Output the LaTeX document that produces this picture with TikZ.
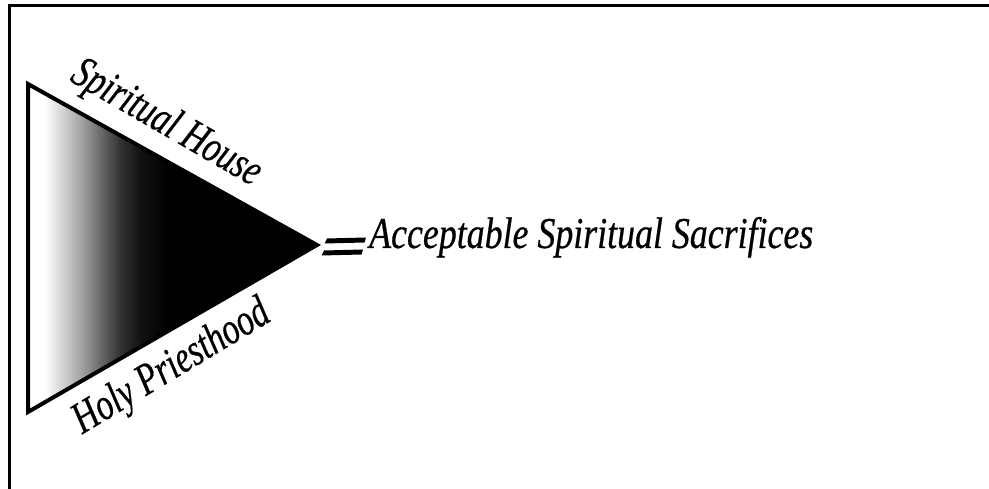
\documentclass[tikz,border=0pt]{standalone}
\usepackage{fontspec}
\setmainfont{Liberation Serif}
\newfontfamily\labfont{Liberation Serif}[FakeBold=0.6]
\usepackage{graphicx}
\pgfdeclarehorizontalshading{fadeblack}{100bp}{%
  color(0bp)=(white); color(25bp)=(white); color(30.4bp)=(white); color(35.7bp)=(black!15);
  color(42.9bp)=(black!35); color(50bp)=(black!58); color(57.1bp)=(black!80);
  color(64.3bp)=(black!93); color(71.4bp)=(black!98); color(75bp)=(black); color(100bp)=(black)}
\begin{document}
\begin{tikzpicture}[x=1pt,y=-1pt,
  frame/.style={line width=3pt,black},
  tri/.style={line width=4pt,black,line join=miter},
  lbl/.style={inner sep=0pt,font=\labfont\itshape}]
\useasboundingbox (0,0) rectangle (989,489);
% frame (top and left sides only)
\draw[frame] (9.5,489) -- (9.5,5.5) -- (989,5.5);
% triangle
\coordinate (tl) at (28,84);
\coordinate (bl) at (28,412);
\coordinate (tip) at (317,245);
\begin{scope}
  \clip (tl) -- (tip) -- (bl) -- cycle;
  \shade[shading=fadeblack] (30,80) rectangle (170,420);
  \fill[black] (169,80) rectangle (320,420);
\end{scope}
\draw[tri] (tl) -- (tip) -- (bl) -- cycle;
% equals sign
\fill (327,238.5) -- (366,237.5) -- (364.5,242.5) -- (324.5,243.5) -- cycle;
\fill (324,250.5) -- (363,249.5) -- (361.5,254.5) -- (321.5,255.5) -- cycle;
% labels
\node[lbl,anchor=base west] (acc) at (369,248) {\resizebox{444pt}{31pt}{Acceptable Spiritual Sacrifices}};
\node[lbl,rotate=-30] (house) at (166,124) {\resizebox{212pt}{31pt}{Spiritual House}};
\node[lbl,rotate=31] (priest) at (172,368) {\resizebox{222pt}{31pt}{Holy Priesthood}};
\end{tikzpicture}
\end{document}
